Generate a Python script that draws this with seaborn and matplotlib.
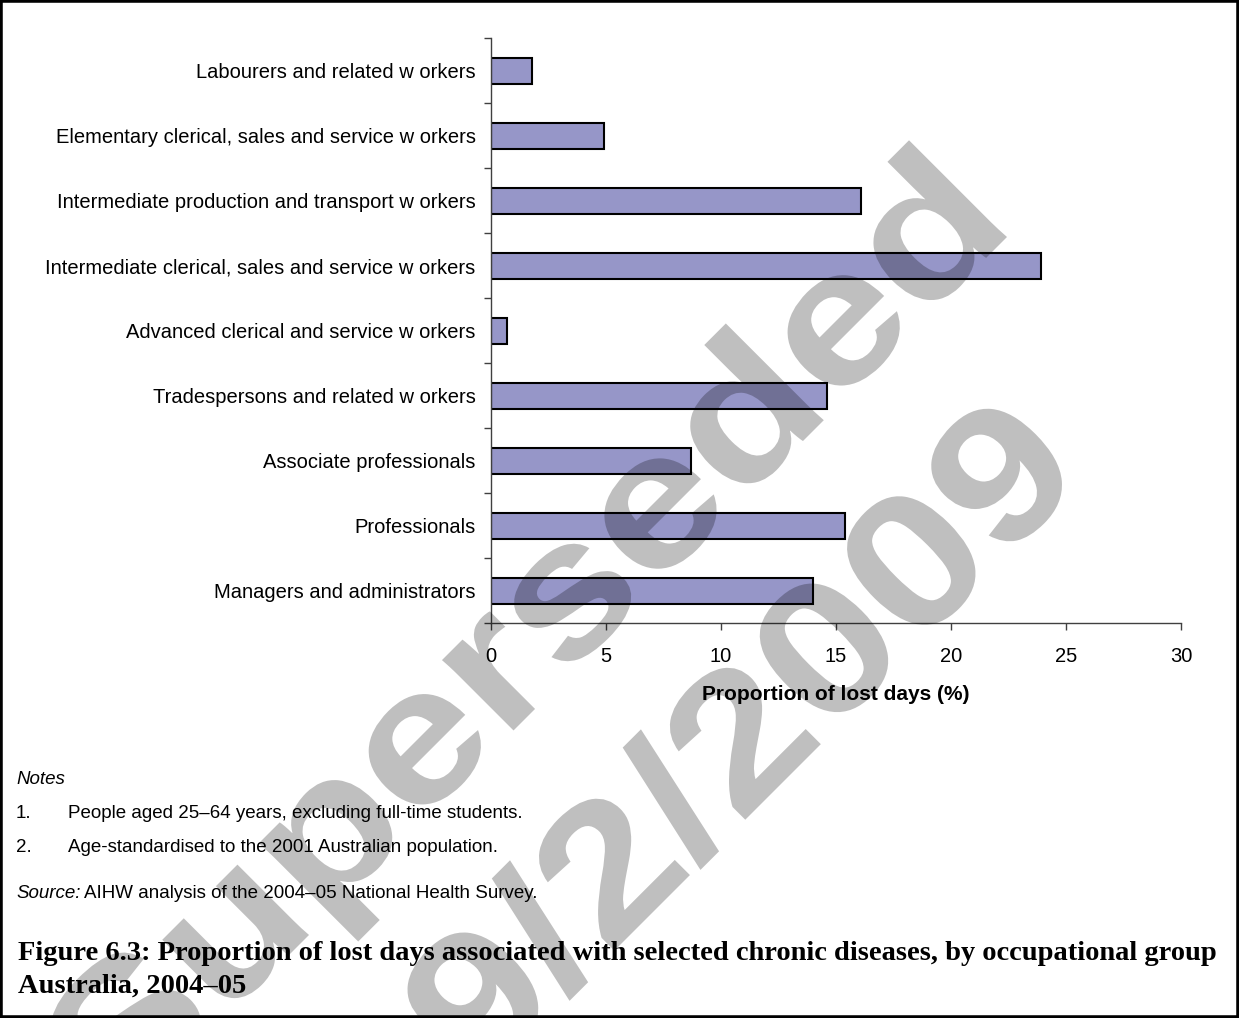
import numpy as np
import pandas as pd
import seaborn as sns
import matplotlib
matplotlib.use("Agg")
import matplotlib.pyplot as plt
from matplotlib.textpath import TextPath
from matplotlib.font_manager import FontProperties
from matplotlib.patches import PathPatch, Rectangle
from matplotlib.transforms import Affine2D, IdentityTransform
from matplotlib.ticker import FixedLocator

sns.set_style("white")
plt.rcParams['font.family'] = ['Liberation Sans', 'DejaVu Sans']
plt.rcParams.update({'text.color': 'black', 'axes.labelcolor': 'black',
                     'xtick.color': 'black', 'ytick.color': 'black'})

# %% data
groups = ['Labourers and related w orkers',
          'Elementary clerical, sales and service w orkers',
          'Intermediate production and transport w orkers',
          'Intermediate clerical, sales and service w orkers',
          'Advanced clerical and service w orkers',
          'Tradespersons and related w orkers',
          'Associate professionals',
          'Professionals',
          'Managers and administrators']
lost_days = [1.8, 4.9, 16.1, 23.9, 0.7, 14.6, 8.7, 15.4, 14.0]
xticks = [0, 5, 10, 15, 20, 25, 30]

d = pd.DataFrame({'group': groups, 'pct': lost_days})

# %% figure
W, H = 1239, 1018
fig = plt.figure(figsize=(W / 100, H / 100), dpi=100)
ax = fig.add_axes([491 / W, 1 - 623 / H, 690 / W, 585 / H])

sns.barplot(data=d, x='pct', y='group', orient='h', color='#9696C8',
            saturation=1, edgecolor='black', linewidth=1.5, width=0.4, ax=ax)

ax.set_xlim(0, 30)
ax.set_ylim(len(groups) - 0.5, -0.5)
ax.set_xticks(xticks)
ax.set_xticklabels([str(t) for t in xticks], fontsize=14.5)
ax.yaxis.set_minor_locator(FixedLocator(np.arange(-0.5, len(groups), 1)))
ax.tick_params(axis='y', which='major', length=0, pad=11, labelsize=14.5)
ax.tick_params(axis='y', which='minor', length=5, width=1, color='#404040', left=True)
ax.tick_params(axis='x', length=5, width=1, color='#404040', bottom=True, pad=12)
for s in ['top', 'right']:
    ax.spines[s].set_visible(False)
for s in ['left', 'bottom']:
    ax.spines[s].set_color('#404040')
    ax.spines[s].set_linewidth(1)
ax.set_ylabel('')
ax.set_xlabel('Proportion of lost days (%)', fontsize=15, fontweight='bold', labelpad=14)

# %% notes and caption
fs = 13.5
fig.text(16 / W, 1 - 780 / H, 'Notes', fontsize=fs, style='italic', va='center')
fig.text(16 / W, 1 - 814 / H, '1.', fontsize=fs, va='center')
fig.text(68 / W, 1 - 814 / H, 'People aged 25\u201364 years, excluding full-time students.', fontsize=fs, va='center')
fig.text(16 / W, 1 - 848 / H, '2.', fontsize=fs, va='center')
fig.text(68 / W, 1 - 848 / H, 'Age-standardised to the 2001 Australian population.', fontsize=fs, va='center')
fig.text(16 / W, 1 - 893 / H, 'Source:', fontsize=fs, style='italic', va='center')
fig.text(84 / W, 1 - 893 / H, 'AIHW analysis of the 2004\u201305 National Health Survey.', fontsize=fs, va='center')

fig.text(18 / W, 1 - 954 / H,
         'Figure 6.3: Proportion of lost days associated with selected chronic diseases, by occupational group',
         fontsize=20.5, fontweight='bold', family='Liberation Serif', va='center')
fig.text(18 / W, 1 - 986 / H, 'Australia, 2004\u201305',
         fontsize=20.5, fontweight='bold', family='Liberation Serif', va='center')

# %% watermark: 45 degree stamp, drawn as a darkening overlay
fp = FontProperties(family='Liberation Sans', weight='bold')
c45 = np.sqrt(0.5)
u = 222 * np.array([c45, -c45])   # per em along baseline (image px, y down)
v = 190 * np.array([-c45, -c45])  # per em upwards


def stamp(txt, origin):
    tp = TextPath((0, 0), txt, size=1, prop=fp)
    m = np.array([[u[0], v[0], origin[0]],
                  [-u[1], -v[1], H - origin[1]],
                  [0, 0, 1]])
    fig.add_artist(PathPatch(tp, transform=Affine2D(m) + IdentityTransform(),
                             facecolor='black', edgecolor='none', alpha=0.25, zorder=10))


x1 = TextPath((0, 0), 'Superseded', size=1, prop=fp).get_extents().x1
stamp('Superseded', np.array([1007, 237]) - x1 * u)
stamp('9/2/2009', (478, 1087))

fig.add_artist(Rectangle((0, 0), 1, 1, transform=fig.transFigure, fill=False,
                         lw=4, ec='black', zorder=20))

plt.savefig('out.png', dpi=100)
